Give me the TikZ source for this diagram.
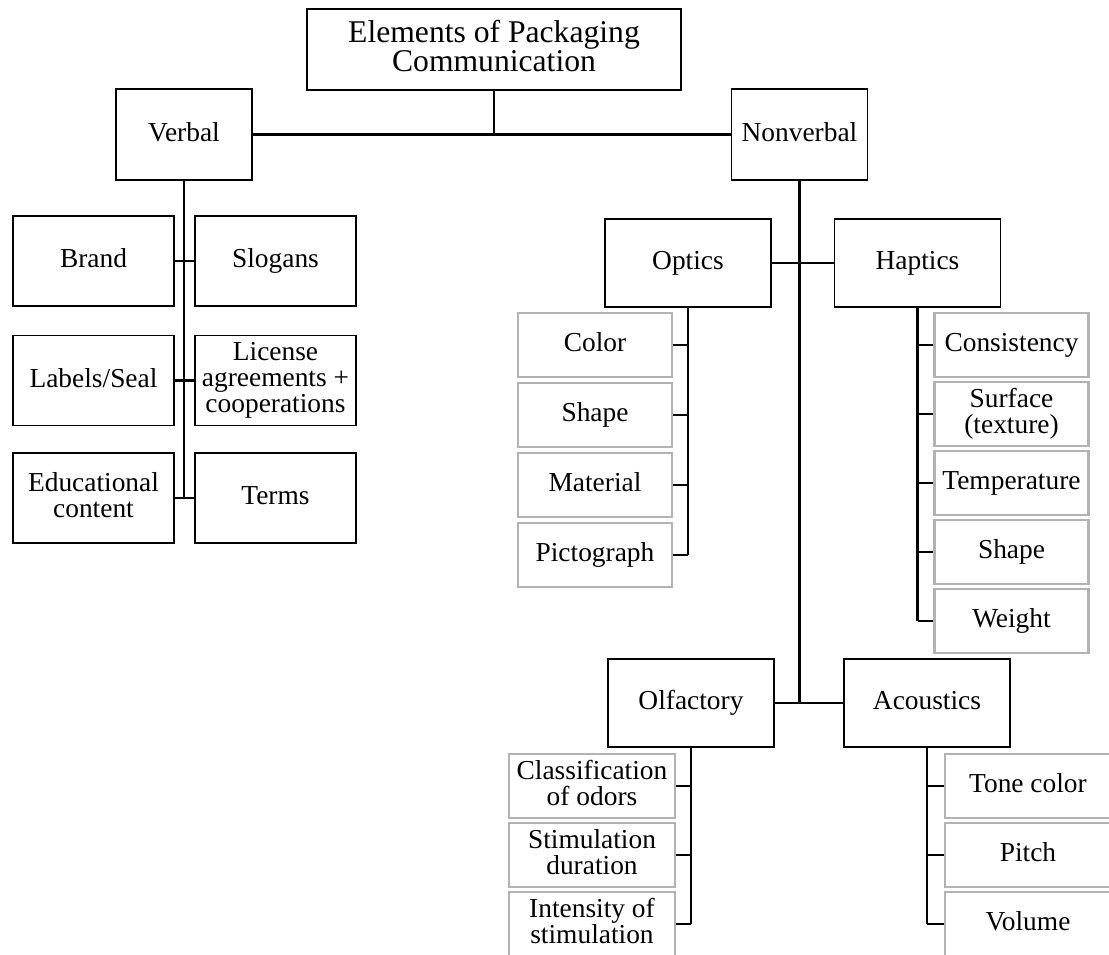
\documentclass[tikz,border=0pt]{standalone}
\usepackage{fontspec}
\setmainfont{Liberation Serif}

\tikzset{
  box/.style={draw=black, line width=1pt, fill=white, align=center, inner sep=0pt,
    font=\fontsize{15.6}{15}\selectfont, execute at end node={\vphantom{g}}},
  headbox/.style={box, minimum width=7.48cm, minimum height=1.62cm,
    font=\fontsize{18}{16.5}\selectfont},
  groupbox/.style={box, minimum width=2.72cm, minimum height=1.82cm},
  verbox/.style={box, minimum width=3.22cm, minimum height=1.8cm},
  sensebox/.style={box, minimum width=3.32cm, minimum height=1.76cm},
  leafbox/.style={box, draw=black!30, line width=1.3pt, minimum width=3.08cm, minimum height=1.28cm},
  wideleaf/.style={leafbox, minimum width=3.32cm},
  link/.style={line width=1.2pt},
  trunk/.style={line width=1.5pt},
}

\begin{document}
\begin{tikzpicture}[x=0.02cm, y=-0.02cm]
 \clip (0,0) rectangle (1109,954);
 % top levels
 \node[headbox] (elements) at (494,49.5) {Elements of Packaging\\Communication};
 \node[groupbox] (verbal) at (184,134.5) {Verbal};
 \node[groupbox] (nonverbal) at (799.5,134.5) {Nonverbal};
 \draw[link] (elements.south) -- (elements.south |- verbal.east);
 \draw[link] (verbal) -- (nonverbal);

 % verbal side
 \node[verbox] (brand) at (93.5,261) {Brand};
 \node[verbox] (slogans) at (275.5,261) {Slogans};
 \node[verbox] (labels) at (93.5,380.5) {Labels/Seal};
 \node[verbox] (license) at (275.5,380.5) {License\\agreements +\\cooperations};
 \node[verbox] (educational) at (93.5,498) {Educational\\content};
 \node[verbox] (terms) at (275.5,498) {Terms};
 \draw[trunk] (verbal.south) -- (verbal.south |- educational.east);
 \draw[link] (brand) -- (slogans);
 \draw[link] (labels) -- (license);
 \draw[link] (educational) -- (terms);

 % nonverbal side
 \node[sensebox] (optics) at (688,263) {Optics};
 \node[sensebox] (haptics) at (917.5,263) {Haptics};
 \node[sensebox] (olfactory) at (691,703) {Olfactory};
 \node[sensebox] (acoustics) at (927,703) {Acoustics};
 \draw[trunk] (nonverbal.south) -- (nonverbal.south |- olfactory.east);
 \draw[link] (optics) -- (haptics);
 \draw[link] (olfactory) -- (acoustics);

 % optics
 \foreach \name/\txt [count=\i] in {color/Color, opshape/Shape, material/Material, pictograph/Pictograph}{
   \node[leafbox] (\name) at (595,275+70*\i) {\txt};
   \draw[link] (\name.east) -- (\name.east -| optics.south);
 }
 \draw[link] (optics.south) -- (optics.south |- pictograph.east);

 % haptics
 \foreach \name/\txt [count=\i] in {consistency/Consistency, surface/{Surface\\(texture)},
     temperature/Temperature, hapshape/Shape, weight/Weight}{
   \node[leafbox] (\name) at (1011.5,276+69*\i) {\txt};
   \draw[link] (\name.west) -- (\name.west -| haptics.south);
 }
 \draw[link] (haptics.south) -- (haptics.south |- weight.west);

 % olfactory
 \foreach \name/\txt [count=\i] in {odors/{Classification\\of odors}, duration/{Stimulation\\duration},
     intensity/{Intensity of\\stimulation}}{
   \node[wideleaf] (\name) at (592,717+69*\i) {\txt};
   \draw[link] (\name.east) -- (\name.east -| olfactory.south);
 }
 \draw[link] (olfactory.south) -- (olfactory.south |- intensity.east);

 % acoustics
 \foreach \name/\txt [count=\i] in {tone/Tone color, pitch/Pitch, volume/Volume}{
   \node[wideleaf] (\name) at (1028,717+69*\i) {\txt};
   \draw[link] (\name.west) -- (\name.west -| acoustics.south);
 }
 \draw[link] (acoustics.south) -- (acoustics.south |- volume.west);
\end{tikzpicture}
\end{document}
